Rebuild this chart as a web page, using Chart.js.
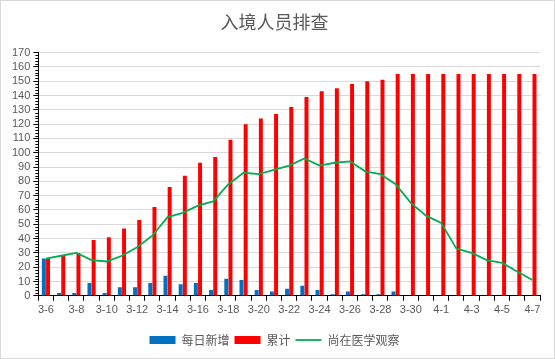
<!DOCTYPE html>
<html>
<head>
<meta charset="utf-8">
<script src="https://cdn.jsdelivr.net/npm/chart.js@4"></script>
<style>
  html, body { margin: 0; padding: 0; background: #fff; }
  #wrap { width: 553px; height: 357px; border: 1px solid #d9d9d9; }
</style>
</head>
<body>
<div id="wrap"><canvas id="myChart" width="553" height="357"></canvas></div>
<script>
// dates 3-6 .. 4-7
const days = ['3-6','3-7','3-8','3-9','3-10','3-11','3-12','3-13','3-14','3-15','3-16',
  '3-17','3-18','3-19','3-20','3-21','3-22','3-23','3-24','3-25','3-26','3-27','3-28',
  '3-29','3-30','3-31','4-1','4-2','4-3','4-4','4-5','4-6','4-7'];

const dailyNew = [26, 2, 2, 9, 2, 6, 6, 9, 14, 8, 9, 4, 12, 11, 4, 3, 5, 7, 4, 1, 3, 1,
  1, 3, 0, 0, 0, 0, 0, 0, 0, 0, 0];
const total = [26, 28, 30, 39, 41, 47, 53, 62, 76, 84, 93, 97, 109, 120, 124, 127, 132,
  139, 143, 145, 148, 150, 151, 155, 155, 155, 155, 155, 155, 155, 155, 155, 155];
const observing = [26, 28, 30, 25, 24, 28, 34, 42, 55, 58, 63, 66, 78, 86, 85, 88, 91, 96,
  91, 93, 94, 87, 85, 78, 65, 56, 51, 33, 30, 25, 23, 17, 11];

const yTicks = { min: 0, max: 170, step: 10 };

const grey = '#595959';
const tickFont = { family: 'Liberation Sans', size: 11 };

// small minor tick marks on the y axis, like the original
const minorTicks = {
  id: 'minorTicks',
  afterDraw(chart) {
    const y = chart.scales.y;
    const ctx = chart.ctx;
    ctx.save();
    ctx.strokeStyle = '#000';
    ctx.lineWidth = 1;
    for (let v = yTicks.min; v <= yTicks.max; v += 2) {
      if (v % yTicks.step === 0) continue;
      const py = Math.round(y.getPixelForValue(v)) + 0.5;
      ctx.beginPath();
      ctx.moveTo(y.right - 3, py);
      ctx.lineTo(y.right, py);
      ctx.stroke();
    }
    ctx.restore();
  }
};

new Chart('myChart', {
  type: 'bar',
  data: {
    labels: days,
    datasets: [{
      label: '每日新增',
      data: dailyNew,
      backgroundColor: '#0070c0',
      pointStyle: 'rect',
      order: 2
    }, {
      label: '累计',
      data: total,
      backgroundColor: '#ff0000',
      pointStyle: 'rect',
      order: 2
    }, {
      type: 'line',
      label: '尚在医学观察',
      data: observing,
      borderColor: '#00b050',
      backgroundColor: '#00b050',
      borderWidth: 1.8,
      pointRadius: 0,
      pointStyle: 'line',
      tension: 0,
      order: 1
    }]
  },
  plugins: [minorTicks],
  options: {
    responsive: false,
    animation: false,
    layout: { padding: { left: 8, right: 14, top: 4, bottom: 2 } },
    datasets: {
      bar: { categoryPercentage: 0.55, barPercentage: 0.95 }
    },
    plugins: {
      title: {
        display: true,
        text: '入境人员排查',
        color: grey,
        font: { family: 'Noto Sans CJK SC', size: 18, weight: 'normal' },
        padding: { top: 6, bottom: 20 }
      },
      legend: {
        position: 'bottom',
        labels: {
          usePointStyle: true,
          pointStyleWidth: 26,
          boxHeight: 8,
          padding: 5,
          color: grey,
          font: { family: 'Noto Sans CJK SC', size: 12 },
          sort: (a, b) => a.datasetIndex - b.datasetIndex
        }
      },
      tooltip: { enabled: false }
    },
    scales: {
      x: {
        afterFit: s => { s.height += 9; },
        grid: { display: true, drawOnChartArea: false, tickColor: '#000', tickLength: 5 },
        border: { color: '#000' },
        ticks: {
          autoSkip: false,
          maxRotation: 0,
          color: grey,
          font: tickFont,
          callback: function (v, i) { return i % 2 === 0 ? days[i] : ''; }
        }
      },
      y: {
        min: yTicks.min,
        max: yTicks.max,
        grid: { color: '#d9d9d9', tickColor: '#000', tickLength: 5 },
        border: { color: '#000' },
        ticks: { stepSize: yTicks.step, autoSkip: false, color: grey, font: tickFont, padding: 3 }
      }
    }
  }
});
</script>
</body>
</html>
